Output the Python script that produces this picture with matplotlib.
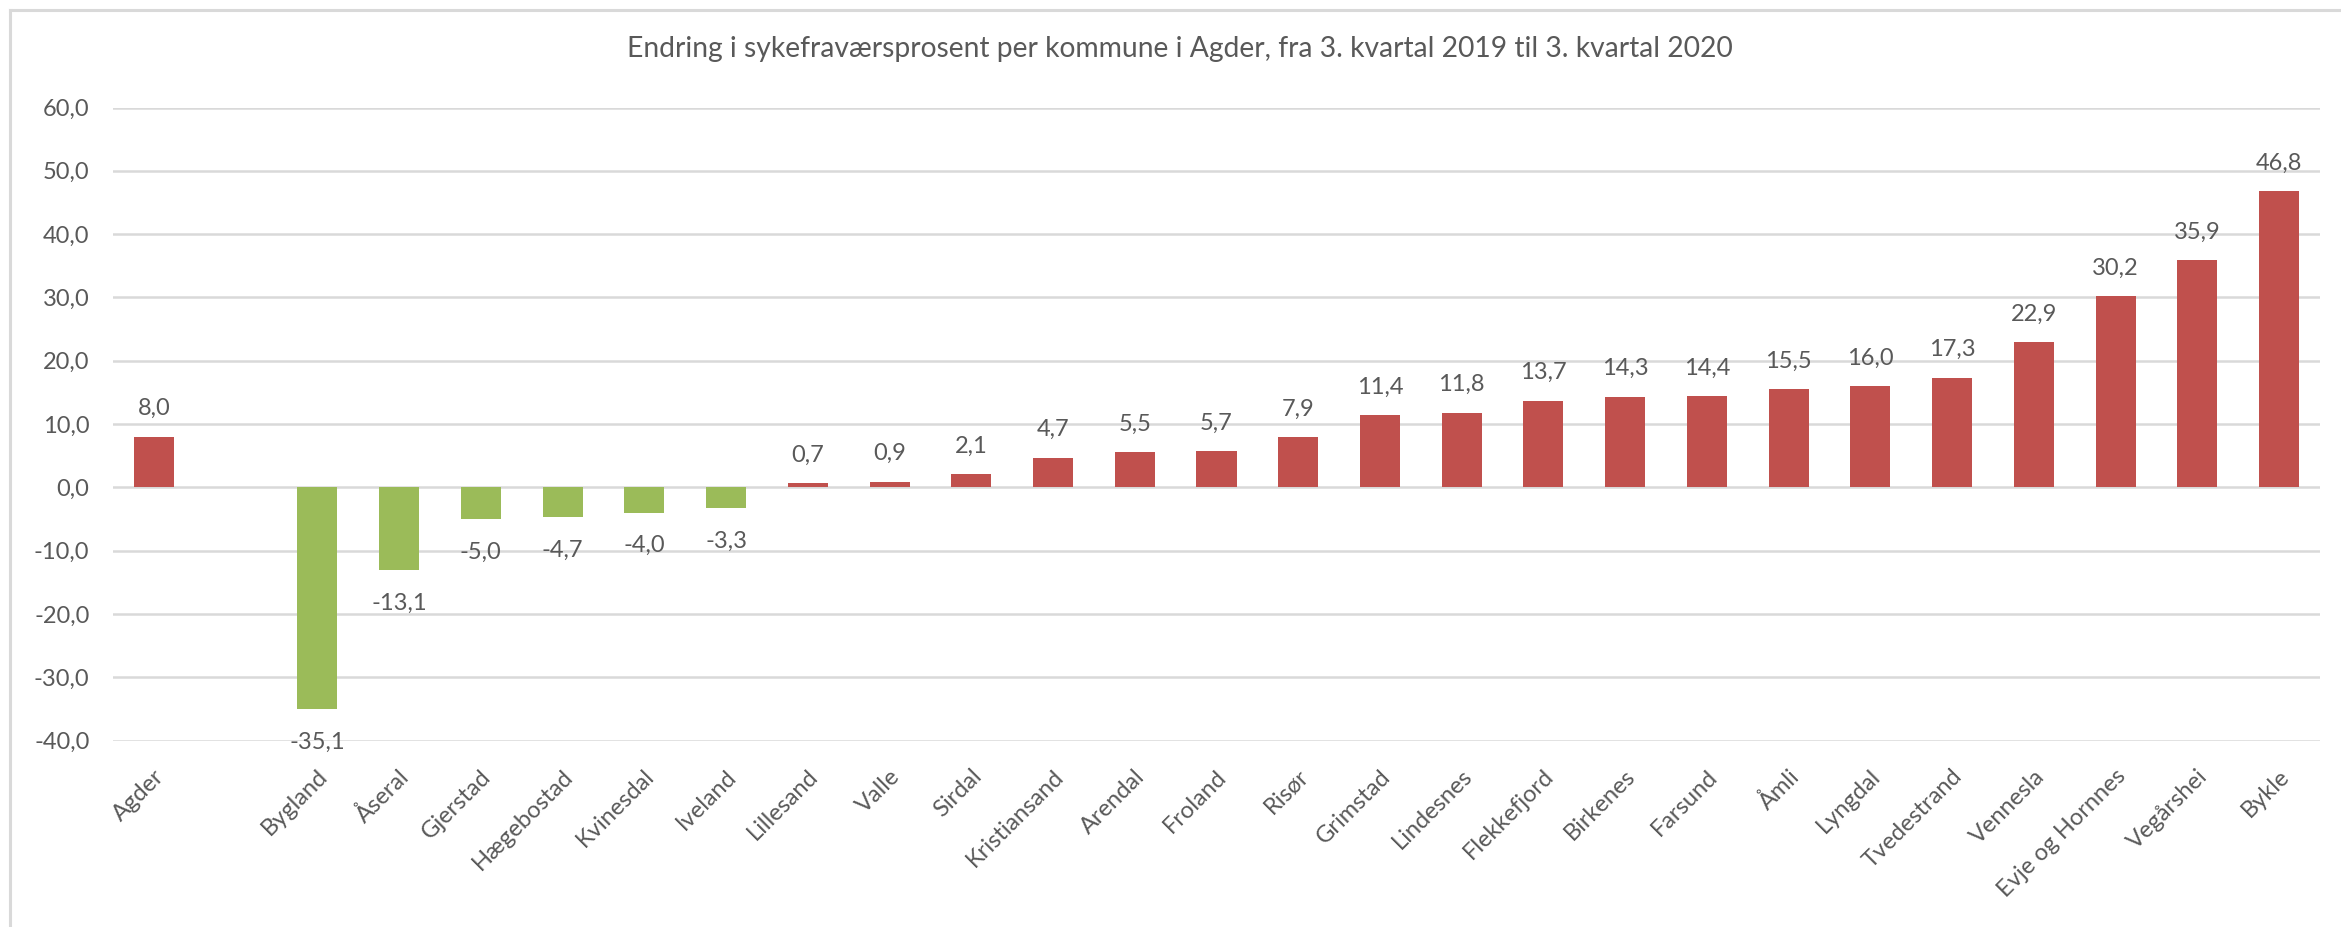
import numpy as np
import matplotlib
matplotlib.use("Agg")
import matplotlib.pyplot as plt
from matplotlib.transforms import ScaledTranslation
from matplotlib.lines import Line2D

categories = ["Agder", "", "Bygland", "Åseral", "Gjerstad", "Hægebostad", "Kvinesdal",
              "Iveland", "Lillesand", "Valle", "Sirdal", "Kristiansand", "Arendal",
              "Froland", "Risør", "Grimstad", "Lindesnes", "Flekkefjord", "Birkenes",
              "Farsund", "Åmli", "Lyngdal", "Tvedestrand", "Vennesla", "Evje og Hornnes",
              "Vegårshei", "Bykle"]
values = [8.0, np.nan, -35.1, -13.1, -5.0, -4.7, -4.0, -3.3, 0.7, 0.9, 2.1, 4.7, 5.5,
          5.7, 7.9, 11.4, 11.8, 13.7, 14.3, 14.4, 15.5, 16.0, 17.3, 22.9, 30.2, 35.9, 46.8]
yticks = [-40, -30, -20, -10, 0, 10, 20, 30, 40, 50, 60]
title = "Endring i sykefraværsprosent per kommune i Agder, fra 3. kvartal 2019 til 3. kvartal 2020"

RED = "#C0504D"
GREEN = "#9BBB59"
TXT = "#595959"
GRID = "#D9D9D9"
FS = 17

plt.rcParams['font.family'] = ['Lato', 'DejaVu Sans']

W, H = 2341, 927
fig = plt.figure(figsize=(W / 100, H / 100), dpi=100)
ax = fig.add_axes([113 / W, 1 - 740.5 / H, (2320 - 113) / W, (740.5 - 107.5) / H])

x = np.arange(len(categories))
vals = np.array(values, dtype=float)
colors = [RED if (not np.isnan(v) and v >= 0) else GREEN for v in vals]
bars = ax.bar(x, np.nan_to_num(vals), width=0.49, color=colors, zorder=3)
for b, v in zip(bars, vals):
    if np.isnan(v):
        b.set_visible(False)

ax.set_xlim(-0.5, len(categories) - 0.5)
ax.set_ylim(-40, 60)
ax.set_yticks(yticks)
ax.set_yticklabels([f"{t:.1f}".replace(".", ",") for t in yticks], color=TXT, fontsize=FS)
ax.yaxis.grid(True, color=GRID, linewidth=1.8, zorder=0)
ax.tick_params(axis='y', length=0, pad=17)
for s in ax.spines.values():
    s.set_visible(False)

ax.set_xticks(x)
ax.set_xticklabels(categories, rotation=45, ha='right', va='center', rotation_mode='anchor',
                   color=TXT, fontsize=FS)
ax.tick_params(axis='x', length=0, pad=23.5)
off = ScaledTranslation(7 / 100, 0, fig.dpi_scale_trans)
for lab in ax.get_xticklabels():
    lab.set_transform(lab.get_transform() + off)

fig.canvas.draw()
ax_bottom_px = ax.transData.transform((0, -40))[1]
for xi, v in zip(x, vals):
    if np.isnan(v):
        continue
    s = f"{v:.1f}".replace(".", ",")
    end_px = ax.transData.transform((xi, v))[1]
    if v >= 0:
        ypx = end_px + 28
    else:
        ypx = max(end_px - 33, ax_bottom_px - 2)
    yd = ax.transData.inverted().transform((0, ypx))[1]
    ax.text(xi, yd, s, ha='center', va='center', color=TXT, fontsize=FS)

# title fitted to width
t = fig.text(1180 / W, 1 - 49 / H, title, ha='center', va='center', color=TXT, fontsize=18)
fig.canvas.draw()
bb = t.get_window_extent()
t.set_fontsize(18 * 1103 / bb.width)

# chart-area border (left and top visible)
fig.add_artist(Line2D([10 / W, 10 / W], [0, 1 - 10 / H], transform=fig.transFigure,
                      color=GRID, linewidth=2.2))
fig.add_artist(Line2D([10 / W, 1], [1 - 10 / H, 1 - 10 / H], transform=fig.transFigure,
                      color=GRID, linewidth=2.2))

fig.savefig("out.png", dpi=100, facecolor="white")
